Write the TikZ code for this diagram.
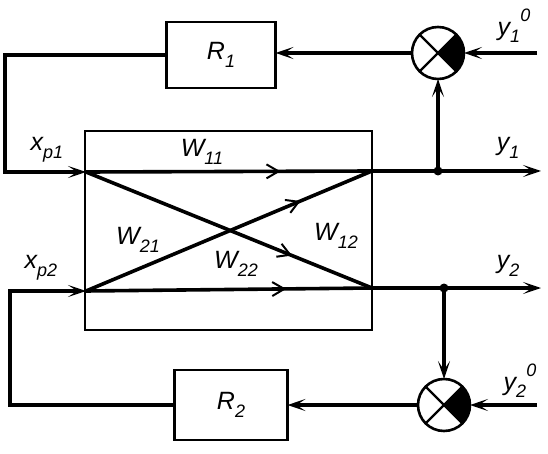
\documentclass[tikz,border=0pt]{standalone}
\usepackage{fontspec}
\setmainfont{Liberation Sans}
\usetikzlibrary{arrows.meta,decorations.markings}
\newcommand{\lo}[1]{\raisebox{-0.3em}{\fontsize{18}{18}\selectfont #1}}
\newcommand{\hi}[1]{\raisebox{0.55em}{\fontsize{18}{18}\selectfont #1}}
\begin{document}
\begin{tikzpicture}[x=1pt,y=-1pt,
  sig/.style={line width=3.6pt},
  frame/.style={line width=2.6pt},
  tip/.style={-{Stealth[length=18pt,width=12pt,inset=9pt]}},
  box/.style={draw,line width=2.6pt,minimum width=#1,minimum height=66pt,inner sep=0pt,outer sep=0pt,font=\fontsize{25}{27}\selectfont\itshape},
  sum/.style={draw,circle,line width=2.6pt,minimum size=52pt,inner sep=0pt,outer sep=0pt},
  lbl/.style={font=\fontsize{25}{27}\selectfont\itshape,inner sep=0pt},
  midarrow/.style={postaction={decorate},decoration={markings,mark=at position #1 with {\arrow{Straight Barb[length=12pt,width=14pt,line width=2pt]}}}},
  dot/.style={circle,fill,inner sep=0pt,minimum size=9pt}
]
\useasboundingbox (0,0) rectangle (548,454);
% plant box
\draw[frame] (85,131) rectangle (372,330);
\coordinate (in1) at (86,172);
\coordinate (in2) at (86,291);
\coordinate (out1) at (372,171);
\coordinate (out2) at (372,288);
% regulators and summers
\node[box=109pt] (R1) at (221,55) {R\lo{1}};
\node[box=113pt,minimum height=70pt] (R2) at (231,405) {R\lo{2}};
\node[sum] (S1) at (438,53) {};
\node[sum] (S2) at (444,405) {};
\foreach \s in {S1,S2}{
  \fill (\s.center) -- (\s.north east) arc[start angle=45,end angle=-45,radius=26pt] -- cycle;
  \draw[line width=2.2pt] (\s.north west) -- (\s.south east);
  \draw[line width=2.2pt] (\s.north east) -- (\s.south west);
}
% plant paths
\draw[sig,midarrow=0.68] (in1) -- (out1);
\draw[sig,midarrow=0.72] (in1) -- (out2);
\draw[sig,midarrow=0.75] (in2) -- (out1);
\draw[sig,midarrow=0.70] (in2) -- (out2);
% outputs
\coordinate (j1) at (438,171);
\coordinate (j2) at (444,288);
\coordinate (y1e) at (541,171);
\coordinate (y2e) at (541,288);
\draw[sig,tip] (out1) -- (y1e);
\draw[sig,tip] (out2) -- (y2e);
\node[dot] at (j1) {};
\node[dot] at (j2) {};
\draw[sig,tip] (j1) -- (S1.south);
\draw[sig,tip] (j2) -- (S2.north);
% set points
\coordinate (r1) at (537,53);
\coordinate (r2) at (537,405);
\draw[sig,tip] (r1) -- (S1.east);
\draw[sig,tip] (r2) -- (S2.east);
\draw[sig,tip] (S1.west) -- (S1.west -| R1.east);
\draw[sig,tip] (S2.west) -- (R2.east);
% feedback to inputs
\coordinate (c1) at (5,172);
\coordinate (c2) at (10,291);
\draw[sig,tip] (R1.west) -| (c1) -- (in1);
\draw[sig,tip] (R2.west) -| (c2) -- (in2);
% labels
\node[lbl] at (47,150) {x\lo{p1}};
\node[lbl] at (41,268) {x\lo{p2}};
\node[lbl] at (202,152) {W\lo{11}};
\node[lbl] at (138,240) {W\lo{21}};
\node[lbl] at (236,264) {W\lo{22}};
\node[lbl] at (336,236) {W\lo{12}};
\node[lbl] at (508,148) {y\lo{1}};
\node[lbl] at (508,266) {y\lo{2}};
\node[lbl] at (514,26) {y\lo{1}\hi{0}};
\node[lbl] at (520,381) {y\lo{2}\hi{0}};
\end{tikzpicture}
\end{document}
